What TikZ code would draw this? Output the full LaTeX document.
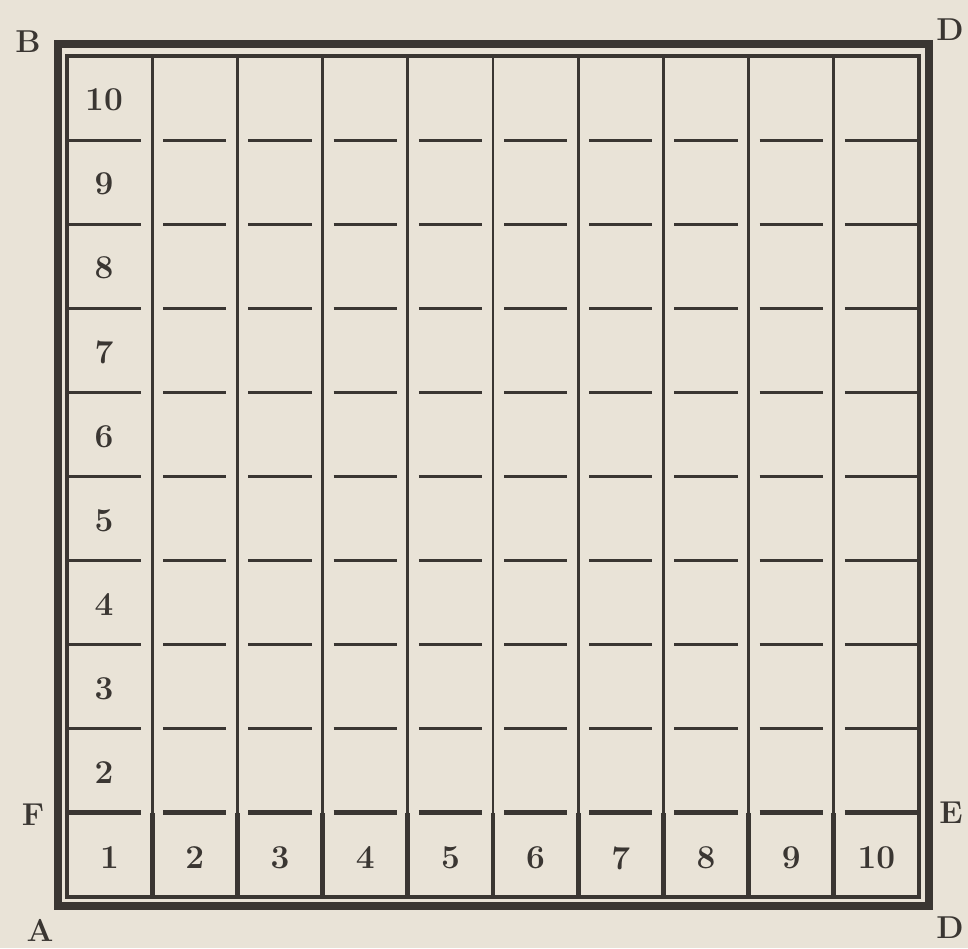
\documentclass[tikz,border=0pt]{standalone}
\usepackage{xcolor}
\usepackage{tikz}
\usetikzlibrary{positioning}
\definecolor{PaperTan}{RGB}{233,227,215}
\definecolor{InkDark}{RGB}{58,54,50}

\begin{document}
\begin{tikzpicture}[x=0.02cm,y=-0.02cm,
        outerframe/.style={draw=InkDark,line width=4pt},
        innerframe/.style={draw=InkDark,line width=2pt},
        colline/.style={draw=InkDark,line width=1.7pt},
        rowdash/.style={draw=InkDark,line width=1.6pt},
        basedash/.style={draw=InkDark,line width=2.8pt},
        num/.style={font=\fontsize{19}{22}\selectfont\bfseries,text=InkDark,inner sep=0pt},
        corner/.style={font=\fontsize{18}{22}\selectfont\bfseries,text=InkDark,inner sep=0pt}
      ]
        \fill[PaperTan] (0,0) rectangle (968,948);
        \useasboundingbox (0,0) rectangle (968,948);
        % frame
        \draw[outerframe] (58,44) rectangle (929,906);
        \draw[innerframe] (67,56) rectangle (919,897);
        % columns
        \foreach \c in {1,...,9}{
          \draw[colline] (67+85.2*\c,56) -- (67+85.2*\c,897);
          \draw[basedash] (67+85.2*\c,813) -- (67+85.2*\c,897);
        }
        % dashes between rows
        \foreach \r in {1,...,9}{
          \foreach \c in {0,...,9}{
            \pgfmathsetmacro\xl{\c==0 ? 67 : 67+85.2*\c+11}
            \pgfmathsetmacro\xr{\c==9 ? 919 : 67+85.2*(\c+1)-11}
            \pgfmathsetmacro\yy{56+84.1*\r}
            \ifnum\r=9
              \draw[basedash] (\xl,\yy) -- (\xr,\yy);
            \else
              \draw[rowdash] (\xl,\yy) -- (\xr,\yy);
            \fi
          }
        }
        % left numbers
        \foreach \n in {2,...,10}
          \node[num] (row\n) at ({104},{56+84.1*(10-\n)+44}) {\n};
        % bottom numbers
        \foreach \n in {1,...,10}
          \node[num] (col\n) at ({67+85.2*(\n-0.5)},858) {\n};
        % corner letters
        \node[corner] (cornerB) at (28,42) {B};
        \node[corner] (cornerDtop) at (950,30) {D};
        \node[corner] (cornerF) at (33,815) {F};
        \node[corner] (cornerE) at (951,813) {E};
        \node[corner] (cornerA) at (40,930) {A};
        \node[corner] (cornerDbot) at (950,928) {D};
      \end{tikzpicture}
\end{document}
